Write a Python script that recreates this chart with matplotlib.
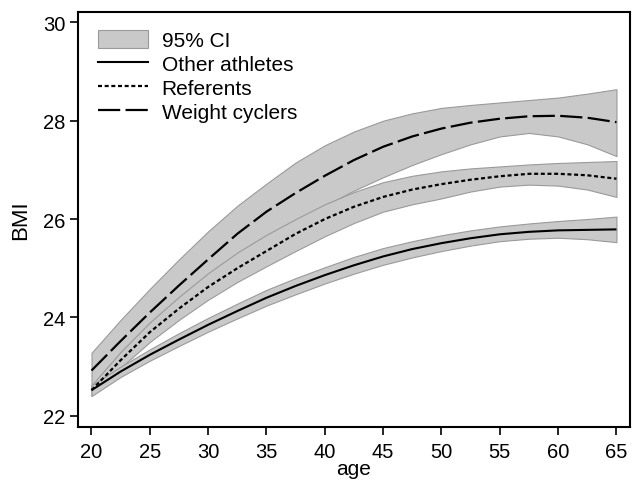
import matplotlib
matplotlib.use("Agg")
import matplotlib.pyplot as plt
from matplotlib.patches import Patch
from matplotlib.lines import Line2D

plt.rcParams['font.family'] = ['Liberation Sans', 'DejaVu Sans']

age = [20, 22.5, 25, 27.5, 30, 32.5, 35, 37.5, 40, 42.5, 45, 47.5, 50, 52.5, 55, 57.5, 60, 62.5, 65]

oa_mean = [22.52, 22.9, 23.24, 23.55, 23.85, 24.13, 24.4, 24.64, 24.86, 25.06, 25.24, 25.39, 25.51, 25.61, 25.69, 25.74, 25.77, 25.78, 25.79]
oa_up = [22.62, 23.0, 23.35, 23.68, 23.99, 24.28, 24.56, 24.8, 25.02, 25.23, 25.41, 25.55, 25.67, 25.77, 25.85, 25.91, 25.96, 26.0, 26.05]
oa_lo = [22.4, 22.79, 23.12, 23.42, 23.71, 23.98, 24.24, 24.47, 24.69, 24.89, 25.07, 25.22, 25.35, 25.46, 25.55, 25.6, 25.62, 25.59, 25.53]

ref_mean = [22.52, 23.13, 23.7, 24.18, 24.62, 25.0, 25.35, 25.7, 26.0, 26.25, 26.45, 26.6, 26.71, 26.8, 26.87, 26.92, 26.92, 26.89, 26.82]
ref_up = [22.62, 23.3, 23.9, 24.42, 24.9, 25.32, 25.68, 26.0, 26.3, 26.55, 26.75, 26.88, 26.97, 27.03, 27.07, 27.11, 27.14, 27.16, 27.18]
ref_lo = [22.42, 22.98, 23.5, 23.95, 24.36, 24.72, 25.04, 25.35, 25.65, 25.92, 26.15, 26.3, 26.42, 26.56, 26.66, 26.7, 26.68, 26.6, 26.45]

wc_mean = [22.92, 23.52, 24.1, 24.65, 25.18, 25.7, 26.15, 26.53, 26.88, 27.2, 27.47, 27.68, 27.84, 27.96, 28.04, 28.09, 28.1, 28.06, 27.97]
wc_up = [23.28, 23.95, 24.58, 25.18, 25.75, 26.27, 26.72, 27.15, 27.5, 27.78, 28.0, 28.15, 28.26, 28.32, 28.37, 28.42, 28.47, 28.55, 28.64]
wc_lo = [22.55, 23.1, 23.63, 24.14, 24.62, 25.08, 25.5, 25.9, 26.27, 26.58, 26.85, 27.1, 27.32, 27.52, 27.68, 27.75, 27.68, 27.52, 27.28]

x_ticks = [20, 25, 30, 35, 40, 45, 50, 55, 60, 65]
y_ticks = [22, 24, 26, 28, 30]

band_color = '#c9c9c9'
edge_color = '#9a9a9a'
ref_dash = (1.8, 1.2)
wc_dash = (10, 2.4)

fig = plt.figure(figsize=(6.4, 4.81), dpi=100)
ax = fig.add_axes([0.122, 0.110, 0.862, 0.864])

for lo, up in [(wc_lo, wc_up), (ref_lo, ref_up), (oa_lo, oa_up)]:
    ax.fill_between(age, lo, up, facecolor=band_color, edgecolor=edge_color, linewidth=0.8, zorder=1)

ax.plot(age, oa_mean, color='black', lw=1.5, solid_capstyle='butt', zorder=3)
ax.plot(age, ref_mean, color='black', lw=1.6, dashes=ref_dash, zorder=3)
ax.plot(age, wc_mean, color='black', lw=1.6, dashes=wc_dash, zorder=3)

ax.set_xlim(18.85, 66.14)
ax.set_ylim(21.77, 30.22)
ax.set_xticks(x_ticks)
ax.set_yticks(y_ticks)
ax.tick_params(axis='both', labelsize=14.5, length=6, width=1.2, direction='out')
ax.tick_params(axis='x', pad=5)
ax.tick_params(axis='y', pad=3)
for s in ax.spines.values():
    s.set_linewidth(1.5)

ax.set_xlabel('age', fontsize=15, labelpad=-2)
ax.set_ylabel('BMI', fontsize=16, labelpad=9)

handles = [
    Patch(facecolor=band_color, edgecolor=edge_color, linewidth=0.8),
    Line2D([], [], color='black', lw=1.5),
    Line2D([], [], color='black', lw=1.6, dashes=ref_dash),
    Line2D([], [], color='black', lw=1.6, dashes=wc_dash),
]
labels = ['95% CI', 'Other athletes', 'Referents', 'Weight cyclers']
ax.legend(handles, labels, loc='upper left', bbox_to_anchor=(0.01, 0.99), frameon=False,
          fontsize=15, handlelength=2.4, handleheight=0.9, handletextpad=0.65, labelspacing=0.2,
          borderaxespad=0.3)

fig.savefig('out.png', dpi=100)
